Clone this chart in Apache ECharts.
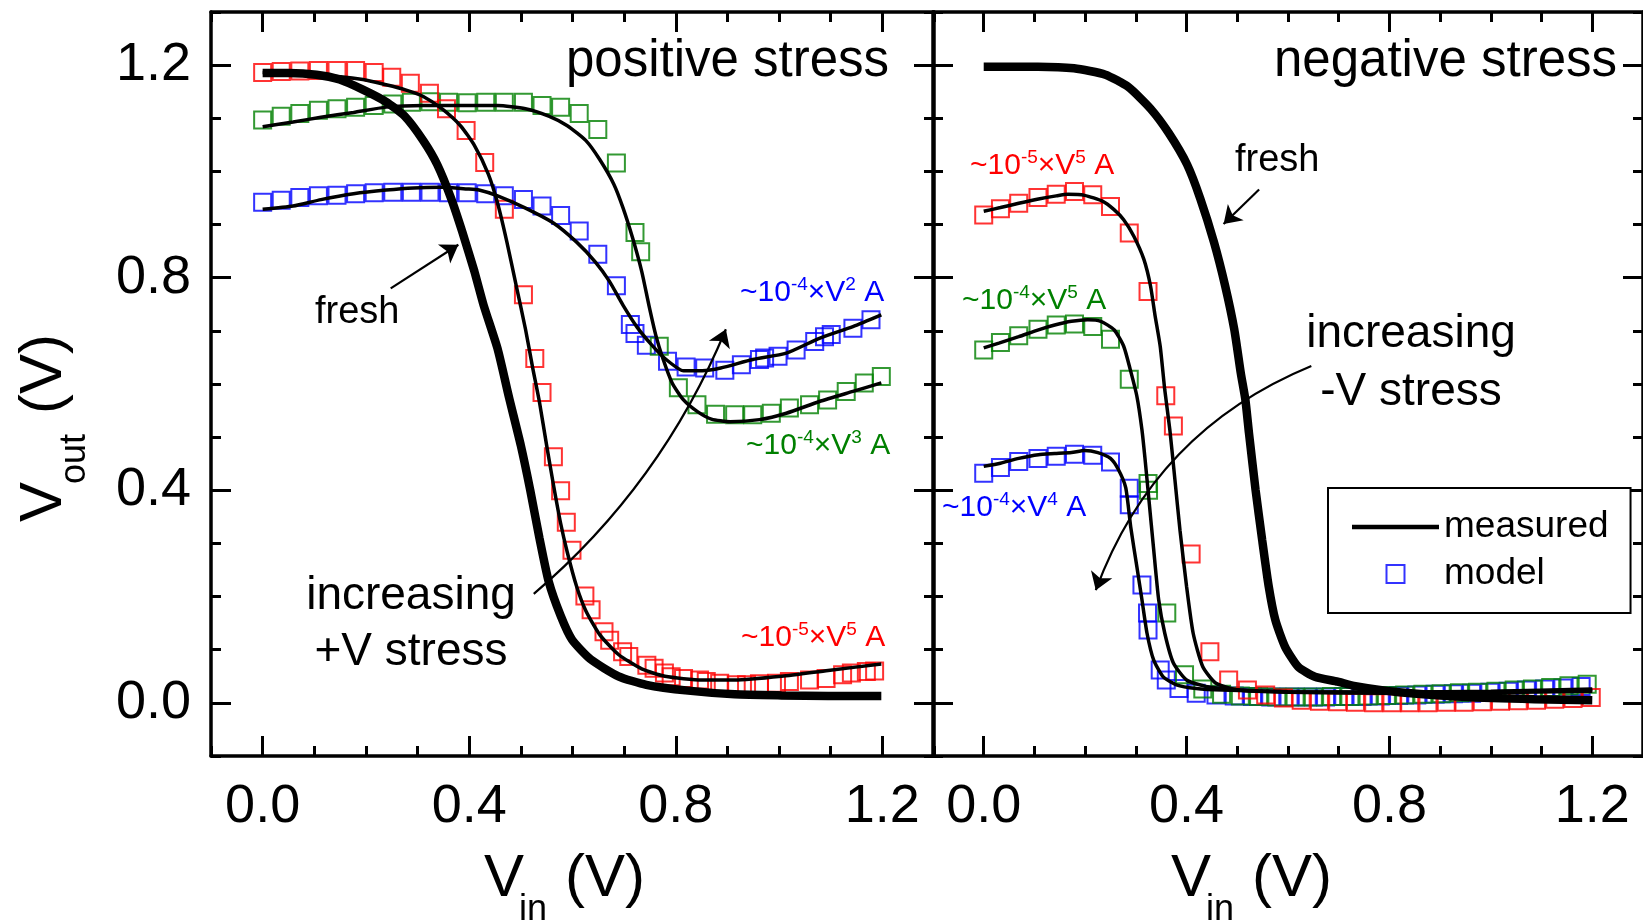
<!DOCTYPE html>
<html>
<head>
<meta charset="utf-8">
<title>Inverter transfer curves under stress</title>
<script src="https://cdn.jsdelivr.net/npm/echarts@6/dist/echarts.min.js"></script>
<style>
  html, body { margin: 0; padding: 0; background: #fff; }
  #chart { width: 1643px; height: 923px; }
</style>
</head>
<body>
<div id="chart"></div>
<script>
// ---- tick labels ----
const xTickValues = [0, 0.4, 0.8, 1.2];
const yTickValues = [0, 0.4, 0.8, 1.2];

// ---- positive stress panel: [Vin, Vout] ----
const posFresh = [[0,1.185],[0.05,1.185],[0.104,1.182],[0.149,1.173],[0.194,1.154],[0.239,1.131],[0.275,1.104],[0.311,1.058],[0.338,1.013],[0.365,0.949],[0.387,0.885],[0.41,0.812],[0.428,0.748],[0.455,0.666],[0.477,0.575],[0.5,0.484],[0.518,0.401],[0.536,0.31],[0.554,0.228],[0.577,0.164],[0.599,0.119],[0.635,0.082],[0.689,0.05],[0.743,0.034],[0.824,0.023],[0.914,0.016],[1.005,0.014],[1.095,0.013],[1.198,0.013]];
const posMeasRed = [[0,1.186],[0.104,1.182],[0.194,1.173],[0.239,1.163],[0.275,1.154],[0.311,1.141],[0.347,1.118],[0.383,1.086],[0.41,1.049],[0.437,0.995],[0.455,0.94],[0.473,0.867],[0.491,0.785],[0.509,0.703],[0.523,0.63],[0.536,0.566],[0.55,0.484],[0.563,0.411],[0.577,0.338],[0.59,0.283],[0.608,0.219],[0.626,0.173],[0.653,0.128],[0.689,0.091],[0.734,0.064],[0.779,0.05],[0.851,0.043],[0.914,0.043],[1.005,0.05],[1.095,0.061],[1.198,0.073]];
const posModelRed = [[0,1.186],[0.036,1.188],[0.072,1.189],[0.108,1.19],[0.144,1.19],[0.18,1.19],[0.216,1.186],[0.25,1.177],[0.286,1.166],[0.323,1.147],[0.356,1.118],[0.394,1.077],[0.43,1.017],[0.468,0.929],[0.505,0.768],[0.527,0.648],[0.541,0.584],[0.563,0.463],[0.577,0.399],[0.588,0.34],[0.599,0.287],[0.624,0.201],[0.636,0.175],[0.661,0.134],[0.672,0.118],[0.697,0.096],[0.709,0.087],[0.744,0.071],[0.758,0.065],[0.778,0.056],[0.791,0.049],[0.815,0.046],[0.846,0.043],[0.859,0.04],[0.885,0.037],[0.917,0.034],[0.937,0.034],[0.962,0.036],[0.995,0.037],[1.02,0.04],[1.059,0.043],[1.091,0.046],[1.123,0.053],[1.14,0.056],[1.169,0.059],[1.185,0.06]];
const posMeasGreen = [[0,1.084],[0.059,1.093],[0.113,1.102],[0.176,1.111],[0.239,1.121],[0.311,1.124],[0.383,1.124],[0.455,1.124],[0.509,1.118],[0.554,1.104],[0.59,1.086],[0.626,1.058],[0.653,1.022],[0.68,0.976],[0.698,0.931],[0.716,0.876],[0.734,0.812],[0.748,0.748],[0.761,0.693],[0.775,0.648],[0.793,0.602],[0.815,0.57],[0.842,0.548],[0.869,0.534],[0.905,0.529],[0.962,0.533],[1.014,0.545],[1.078,0.567],[1.143,0.586],[1.198,0.602]];
const posModelGreen = [[0,1.097],[0.036,1.104],[0.072,1.109],[0.108,1.115],[0.144,1.118],[0.18,1.121],[0.216,1.124],[0.252,1.127],[0.288,1.13],[0.324,1.131],[0.36,1.13],[0.396,1.129],[0.432,1.13],[0.468,1.13],[0.505,1.13],[0.541,1.124],[0.577,1.121],[0.613,1.109],[0.649,1.079],[0.685,1.016],[0.721,0.885],[0.732,0.849],[0.768,0.671],[0.805,0.593],[0.841,0.561],[0.877,0.543],[0.914,0.542],[0.949,0.542],[0.985,0.545],[1.02,0.555],[1.059,0.561],[1.094,0.57],[1.13,0.586],[1.165,0.602],[1.198,0.614]];
const posMeasBlue = [[0,0.929],[0.059,0.935],[0.113,0.947],[0.176,0.958],[0.239,0.965],[0.293,0.969],[0.347,0.97],[0.396,0.967],[0.419,0.965],[0.455,0.954],[0.509,0.931],[0.563,0.903],[0.608,0.867],[0.644,0.83],[0.671,0.794],[0.698,0.748],[0.725,0.707],[0.752,0.675],[0.779,0.648],[0.815,0.625],[0.851,0.625],[0.887,0.63],[0.949,0.646],[1.014,0.658],[1.078,0.686],[1.143,0.708],[1.198,0.73]];
const posModelBlue = [[0,0.942],[0.036,0.946],[0.072,0.951],[0.108,0.954],[0.144,0.955],[0.18,0.958],[0.216,0.96],[0.252,0.961],[0.288,0.961],[0.324,0.961],[0.36,0.96],[0.396,0.96],[0.432,0.958],[0.468,0.954],[0.505,0.947],[0.541,0.935],[0.577,0.917],[0.613,0.888],[0.649,0.844],[0.685,0.785],[0.712,0.712],[0.721,0.695],[0.743,0.673],[0.784,0.643],[0.82,0.632],[0.856,0.63],[0.895,0.626],[0.927,0.636],[0.962,0.646],[0.972,0.649],[0.998,0.652],[1.033,0.664],[1.069,0.68],[1.088,0.689],[1.101,0.693],[1.143,0.705],[1.178,0.721]];

// ---- negative stress panel: [Vin, Vout] ----
const negFresh = [[0,1.197],[0.107,1.197],[0.178,1.194],[0.24,1.182],[0.285,1.159],[0.329,1.118],[0.365,1.072],[0.401,1.013],[0.427,0.949],[0.454,0.867],[0.476,0.785],[0.494,0.703],[0.507,0.62],[0.516,0.57],[0.523,0.508],[0.536,0.401],[0.549,0.307],[0.562,0.219],[0.575,0.156],[0.594,0.106],[0.62,0.068],[0.653,0.049],[0.698,0.04],[0.73,0.032],[0.819,0.02],[0.953,0.011],[1.086,0.007],[1.2,0.005]];
const negMeasRed = [[0,0.925],[0.033,0.932],[0.069,0.94],[0.108,0.948],[0.143,0.954],[0.166,0.957],[0.199,0.955],[0.234,0.944],[0.257,0.928],[0.276,0.909],[0.296,0.878],[0.316,0.834],[0.329,0.784],[0.338,0.728],[0.348,0.671],[0.357,0.589],[0.367,0.514],[0.377,0.42],[0.387,0.325],[0.4,0.219],[0.413,0.131],[0.432,0.068],[0.458,0.037],[0.503,0.024],[0.6,0.02],[0.8,0.018],[1.0,0.019],[1.2,0.022]];
const negModelRed = [[0,0.918],[0.033,0.93],[0.069,0.94],[0.107,0.951],[0.143,0.957],[0.179,0.962],[0.215,0.956],[0.25,0.934],[0.287,0.884],[0.324,0.774],[0.359,0.578],[0.374,0.521],[0.409,0.28],[0.446,0.096],[0.483,0.043],[0.52,0.024],[0.556,0.015],[0.591,0.009],[0.626,0.005],[0.662,0.003],[0.698,0.002],[0.733,0.001],[0.769,0],[0.805,0],[0.84,0],[0.876,0],[0.912,0.001],[0.947,0.001],[0.983,0.002],[1.019,0.003],[1.054,0.004],[1.09,0.005],[1.126,0.007],[1.162,0.008],[1.198,0.01]];
const negMeasGreen = [[0,0.668],[0.03,0.677],[0.069,0.689],[0.108,0.702],[0.14,0.711],[0.173,0.718],[0.205,0.721],[0.231,0.718],[0.257,0.702],[0.276,0.671],[0.289,0.627],[0.302,0.577],[0.312,0.514],[0.318,0.46],[0.326,0.38],[0.335,0.29],[0.345,0.194],[0.357,0.131],[0.374,0.075],[0.4,0.043],[0.438,0.031],[0.503,0.024],[0.6,0.021],[0.8,0.02],[1.0,0.022],[1.2,0.026]];
const negModelGreen = [[0,0.664],[0.033,0.678],[0.069,0.691],[0.107,0.703],[0.143,0.711],[0.179,0.713],[0.215,0.708],[0.25,0.684],[0.287,0.609],[0.324,0.413],[0.325,0.4],[0.361,0.169],[0.396,0.053],[0.432,0.026],[0.469,0.016],[0.506,0.013],[0.542,0.012],[0.578,0.011],[0.614,0.011],[0.65,0.011],[0.686,0.012],[0.722,0.012],[0.758,0.013],[0.794,0.014],[0.83,0.015],[0.866,0.016],[0.902,0.017],[0.938,0.019],[0.974,0.02],[1.01,0.022],[1.046,0.024],[1.082,0.026],[1.118,0.029],[1.154,0.032],[1.19,0.035]];
const negMeasBlue = [[0,0.445],[0.033,0.451],[0.069,0.46],[0.108,0.467],[0.14,0.469],[0.173,0.471],[0.199,0.475],[0.225,0.471],[0.25,0.46],[0.265,0.44],[0.28,0.405],[0.29,0.33],[0.302,0.256],[0.312,0.194],[0.322,0.131],[0.335,0.081],[0.354,0.049],[0.38,0.034],[0.419,0.027],[0.471,0.024],[0.6,0.021],[0.8,0.02],[1.0,0.021],[1.2,0.024]];
const negModelBlue = [[0,0.432],[0.033,0.443],[0.069,0.454],[0.107,0.46],[0.143,0.464],[0.179,0.468],[0.215,0.466],[0.25,0.453],[0.287,0.404],[0.287,0.373],[0.312,0.222],[0.323,0.169],[0.324,0.137],[0.348,0.062],[0.36,0.043],[0.385,0.027],[0.419,0.018],[0.458,0.015],[0.494,0.013],[0.53,0.012],[0.566,0.011],[0.602,0.011],[0.638,0.011],[0.674,0.011],[0.71,0.012],[0.746,0.012],[0.782,0.013],[0.818,0.014],[0.854,0.015],[0.89,0.016],[0.926,0.017],[0.962,0.018],[0.998,0.02],[1.034,0.022],[1.07,0.024],[1.106,0.026],[1.142,0.028],[1.178,0.031]];

// ---- annotation arrows: [start, end] in data units ----
const posFreshArrow = [[0.248,0.78],[0.379,0.862]];
const posStressArrow = [[0.525,0.205],[0.897,0.703]];
const negFreshArrow = [[0.543,0.966],[0.473,0.901]];
const negStressArrow = [[0.646,0.634],[0.221,0.212]];

const FONT = '"Liberation Sans", Arial, Helvetica, sans-serif';
const RED = '#ff0000', GREEN = '#008000', BLUE = '#0000ff';

// legend glyphs: a bar for the measured trace, a hollow square for the model
const LEGEND_LINE_ICON = 'path://M0,0 L87,0 L87,4.5 L0,4.5 Z';
const LEGEND_SQUARE_ICON = 'path://M0,0 L20,0 L20,20 L0,20 Z M2,2 L2,18 L18,18 L18,2 Z';

function minorAxis(gridIndex, position) {
  return {
    type: 'value', gridIndex, position, min: -0.1, max: 1.3, interval: 0.1,
    axisLine: { show: true, onZero: false, lineStyle: { color: '#000', width: 3.5 } },
    axisTick: { show: true, inside: true, length: 10, lineStyle: { color: '#000', width: 3 } },
    axisLabel: { show: false }, splitLine: { show: false }
  };
}
function majorAxis(gridIndex, position, values, withLabels, margin) {
  return {
    type: 'value', gridIndex, position, min: -0.1, max: 1.3,
    axisLine: { show: false, onZero: false },
    axisTick: { show: true, inside: true, length: 20, customValues: values, lineStyle: { color: '#000', width: 3 } },
    axisLabel: {
      show: withLabels, customValues: values, margin: margin,
      formatter: v => Number(v).toFixed(1),
      fontSize: 54, fontFamily: FONT, color: '#000'
    },
    splitLine: { show: false }
  };
}
function modelSeries(data, color, ax) {
  return {
    name: 'model', type: 'scatter', xAxisIndex: ax, yAxisIndex: ax, data,
    symbol: 'rect', symbolSize: 17,
    itemStyle: { color: 'rgba(0,0,0,0)', borderColor: color, borderWidth: 2 },
    emphasis: { disabled: true }, z: 2
  };
}
function measuredSeries(data, width, ax) {
  return {
    name: 'measured', type: 'line', xAxisIndex: ax, yAxisIndex: ax, data,
    symbol: 'none', showSymbol: false, smooth: 0.2,
    lineStyle: { color: '#000', width: width }, itemStyle: { color: '#000' },
    emphasis: { disabled: true }, z: 3
  };
}
function arrowSeries(coords, curveness, ax) {
  return {
    type: 'lines', coordinateSystem: 'cartesian2d', xAxisIndex: ax, yAxisIndex: ax,
    symbol: ['none', 'arrow'], symbolSize: 17, silent: true, z: 4,
    lineStyle: { color: '#000', width: 2.2, opacity: 1, curveness: curveness },
    data: [{ coords: coords }]
  };
}

// plain text placed by its baseline
function txt(x, baseline, s, fs, color, align) {
  return {
    type: 'text', x: x, y: baseline - 0.3465 * fs, silent: true, z: 100,
    style: { text: s, fill: color || '#000', font: fs + 'px ' + FONT,
             align: align || 'left', verticalAlign: 'middle',
             textAlign: align || 'left', textVerticalAlign: 'middle' }
  };
}
// "~10^a×V^b A" current label with superscripts
function powerLabel(x, baseline, a, b, color) {
  return {
    type: 'text', x: x, y: baseline - 27.4, silent: true, z: 100,
    style: {
      text: '{m|~10}{s|' + a + '}{m|×V}{s|' + b + '}{m| A}',
      fill: color, align: 'left', verticalAlign: 'top',
      rich: {
        m: { fontSize: 30, fontFamily: FONT, lineHeight: 34, fill: color },
        s: { fontSize: 19, fontFamily: FONT, lineHeight: 18, verticalAlign: 'top', fill: color }
      }
    }
  };
}

const grids = [
  { left: 211, top: 12, width: 723, height: 744 },
  { left: 211, top: 12, width: 723, height: 744 },
  { left: 933, top: 12, width: 720, height: 744 },
  { left: 933, top: 12, width: 720, height: 744 }
];

const option = {
  animation: false,
  backgroundColor: '#fff',
  grid: grids,
  xAxis: [
    minorAxis(0, 'bottom'), minorAxis(0, 'top'),
    majorAxis(1, 'bottom', xTickValues, true, 24), majorAxis(1, 'top', xTickValues, false, 8),
    minorAxis(2, 'bottom'), minorAxis(2, 'top'),
    majorAxis(3, 'bottom', xTickValues, true, 24), majorAxis(3, 'top', xTickValues, false, 8)
  ],
  yAxis: [
    minorAxis(0, 'left'), minorAxis(0, 'right'),
    majorAxis(1, 'left', yTickValues, true, 20), majorAxis(1, 'right', yTickValues, false, 8),
    minorAxis(2, 'left'), minorAxis(2, 'right'),
    majorAxis(3, 'left', yTickValues, false, 8), majorAxis(3, 'right', yTickValues, false, 8)
  ],
  legend: {
    orient: 'vertical', left: 1328, top: 488,
    padding: [19, 22, 19, 24], itemGap: 7, itemWidth: 87, itemHeight: 20,
    borderColor: '#000', borderWidth: 2, backgroundColor: '#fff',
    selectedMode: false, z: 20, symbolKeepAspect: true,
    textStyle: { fontSize: 37, fontFamily: FONT, color: '#000', lineHeight: 40 },
    data: [
      { name: 'measured', icon: LEGEND_LINE_ICON, itemStyle: { color: '#000', borderWidth: 0 } },
      { name: 'model', icon: LEGEND_SQUARE_ICON, itemStyle: { color: BLUE, borderWidth: 0 } }
    ]
  },
  series: [
    modelSeries(posModelBlue, BLUE, 0),
    modelSeries(posModelGreen, GREEN, 0),
    modelSeries(posModelRed, RED, 0),
    measuredSeries(posMeasBlue, 3.5, 0),
    measuredSeries(posMeasGreen, 3.5, 0),
    measuredSeries(posMeasRed, 3.5, 0),
    measuredSeries(posFresh, 8.5, 0),
    modelSeries(negModelBlue, BLUE, 4),
    modelSeries(negModelGreen, GREEN, 4),
    modelSeries(negModelRed, RED, 4),
    measuredSeries(negMeasBlue, 3.5, 4),
    measuredSeries(negMeasGreen, 3.5, 4),
    measuredSeries(negMeasRed, 3.5, 4),
    measuredSeries(negFresh, 8.5, 4),
    arrowSeries(posFreshArrow, 0, 0),
    arrowSeries(posStressArrow, -0.12, 0),
    arrowSeries(negFreshArrow, 0, 4),
    arrowSeries(negStressArrow, -0.22, 4)
  ],
  graphic: [
    txt(566, 80, 'positive stress', 51),
    txt(1274, 80, 'negative stress', 51),
    txt(315, 326, 'fresh', 38),
    txt(1235, 174, 'fresh', 38),
    txt(411, 612, 'increasing', 46, '#000', 'center'),
    txt(411, 668, '+V stress', 46, '#000', 'center'),
    txt(1411, 350, 'increasing', 46, '#000', 'center'),
    txt(1411, 408, '-V stress', 46, '#000', 'center'),
    powerLabel(740, 303, '-4', '2', BLUE),
    powerLabel(746, 456, '-4', '3', GREEN),
    powerLabel(741, 648, '-5', '5', RED),
    powerLabel(970, 176, '-5', '5', RED),
    powerLabel(962, 311, '-4', '5', GREEN),
    powerLabel(942, 518, '-4', '4', BLUE),
    // x axis titles: V_in (V)
    txt(484, 900, 'V', 60), txt(519, 923, 'in', 36), txt(565, 900, '(V)', 60),
    txt(1171, 900, 'V', 60), txt(1206, 923, 'in', 36), txt(1252, 900, '(V)', 60),
    // y axis title: V_out (V), rotated
    {
      type: 'group', x: 0, y: 522, rotation: Math.PI / 2, silent: true,
      children: [
        txt(0, 65, 'V', 60), txt(38, 88, 'out', 36), txt(108, 65, '(V)', 60)
      ]
    }
  ]
};

const chart = echarts.init(document.getElementById('chart'), null, { renderer: 'canvas' });
chart.setOption(option);
</script>
</body>
</html>
